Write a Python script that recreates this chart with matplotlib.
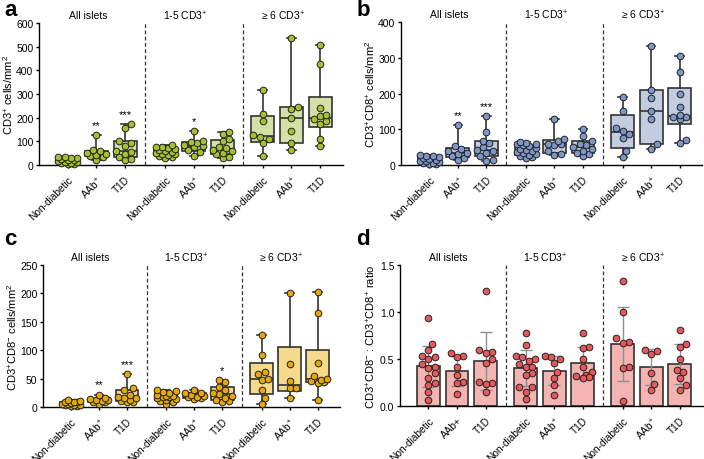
import numpy as np
import matplotlib
matplotlib.use('Agg')
import matplotlib.pyplot as plt
from matplotlib.ticker import FormatStrFormatter

plt.rcParams['font.family'] = ['Liberation Sans', 'DejaVu Sans']
plt.rcParams['mathtext.fontset'] = 'custom'
plt.rcParams['mathtext.rm'] = 'Liberation Sans'
plt.rcParams['mathtext.it'] = 'Liberation Sans:italic'
plt.rcParams['mathtext.bf'] = 'Liberation Sans:bold'
plt.rcParams['axes.linewidth'] = 1.0

# group headers and category names
groups = ['All islets', '1-5 CD3$^{+}$', '\u2265 6 CD3$^{+}$']
categories = ['Non-diabetic', 'AAb$^{+}$', 'T1D']
categories_d = ['Non-diabetic', 'AAb+', 'T1D',
                'Non-diabetic', 'AAb$^{+}$', 'T1D',
                'Non-diabetic', 'AAb$^{+}$', 'T1D']

# panel a: CD3+ cells/mm2 (order: ND, AAb, T1D for each group)
cd3 = [
    [3, 5, 8, 10, 12, 15, 18, 20, 22, 25, 28, 30, 32, 35],
    [22, 35, 38, 42, 45, 50, 58, 62, 128],
    [20, 25, 35, 45, 55, 60, 80, 95, 100, 158, 172],
    [30, 33, 38, 42, 45, 48, 52, 55, 58, 62, 68, 70, 75, 78, 85],
    [40, 55, 62, 75, 80, 85, 92, 98, 100, 145],
    [30, 35, 45, 52, 58, 65, 70, 75, 100, 110, 130, 138],
    [38, 95, 110, 120, 125, 185, 215, 318],
    [62, 92, 144, 200, 238, 245, 535],
    [80, 110, 175, 185, 195, 205, 212, 240, 425, 508],
]
stars_a = ['', '**', '***', '', '*', '', '', '', '']

# panel b: CD3+CD8+ cells/mm2
cd8pos = [
    [2, 3, 5, 6, 8, 10, 12, 15, 18, 20, 22, 25, 25, 28],
    [15, 20, 25, 30, 35, 40, 45, 52, 112],
    [12, 15, 25, 35, 40, 42, 50, 62, 68, 92, 138],
    [20, 22, 25, 27, 30, 33, 36, 40, 42, 45, 48, 52, 55, 58, 60, 63, 65],
    [28, 30, 38, 55, 58, 60, 68, 72, 128],
    [25, 30, 35, 40, 45, 50, 55, 60, 68, 80, 102],
    [22, 38, 75, 88, 96, 105, 152, 190],
    [45, 58, 128, 150, 188, 210, 333],
    [62, 70, 128, 133, 135, 140, 163, 200, 260, 305],
]
stars_b = ['', '**', '***', '', '', '', '', '', '']

# panel c: CD3+CD8- cells/mm2
cd8neg = [
    [1, 2, 3, 3, 4, 5, 6, 7, 8, 8, 9, 10, 12],
    [5, 8, 9, 10, 12, 13, 14, 15, 22],
    [8, 9, 10, 12, 15, 16, 18, 22, 30, 33, 58],
    [5, 8, 10, 12, 14, 15, 17, 18, 20, 20, 22, 25, 27, 28, 30],
    [14, 15, 17, 18, 20, 22, 24, 25, 30],
    [8, 10, 12, 15, 20, 23, 25, 30, 36, 44, 48],
    [5, 16, 30, 48, 50, 58, 62, 92, 127],
    [15, 33, 33, 45, 75, 200],
    [12, 42, 44, 45, 48, 50, 55, 78, 166, 203],
]
stars_c = ['', '**', '***', '', '', '*', '', '', '']

# panel d: CD3+CD8- : CD3+CD8+ ratio
ratio = [
    [0.94, 0.66, 0.6, 0.53, 0.52, 0.5, 0.45, 0.42, 0.4, 0.35, 0.3, 0.25, 0.22, 0.15, 0.07],
    [0.56, 0.53, 0.52, 0.42, 0.33, 0.26, 0.25, 0.13],
    [1.22, 0.6, 0.57, 0.56, 0.5, 0.46, 0.26, 0.25, 0.24, 0.15],
    [0.78, 0.65, 0.53, 0.52, 0.5, 0.48, 0.45, 0.42, 0.42, 0.35, 0.33, 0.2, 0.2, 0.15, 0.08],
    [0.53, 0.52, 0.5, 0.46, 0.36, 0.3, 0.22, 0.12],
    [0.78, 0.63, 0.62, 0.5, 0.42, 0.36, 0.33, 0.32, 0.31, 0.3],
    [1.33, 1.0, 0.72, 0.68, 0.67, 0.42, 0.4, 0.05],
    [0.6, 0.59, 0.55, 0.35, 0.23, 0.17],
    [0.81, 0.66, 0.63, 0.5, 0.38, 0.36, 0.3, 0.22, 0.17],
]

GAP = 3.4
pos = np.array([g * GAP + c for g in range(3) for c in range(3)])
dividers = [2.7, 6.1]
XLIM = (-1.0, 9.6)
EDGE = '#333333'


def swarm(vals, ppx, ppy, d=6.3, maxw=11.0):
    # simple deterministic beeswarm in pixel space
    vals = np.asarray(vals, float)
    order = np.argsort(vals)
    cands = [0.0]
    k = 1
    while k * d * 0.5 <= maxw:
        cands += [k * d * 0.5, -k * d * 0.5]
        k += 1
    placed = []
    xs = np.zeros(len(vals))
    for i in order:
        y = vals[i] * ppy
        best, bestd = 0.0, -1
        for c in cands:
            md = min([np.hypot(c - px, y - py) for px, py in placed] or [1e9])
            if md >= d:
                best = c
                break
            if md > bestd:
                best, bestd = c, md
        placed.append((best, y))
        xs[i] = best / ppx
    return xs


def setup(ax, ylim, yticks, ylabel, labels):
    ax.set_xlim(*XLIM)
    ax.set_ylim(*ylim)
    ax.set_yticks(yticks)
    ax.spines['top'].set_visible(False)
    ax.spines['right'].set_visible(False)
    ax.tick_params(axis='both', labelsize=7.5, length=2.5, width=1, pad=1.5)
    ax.tick_params(axis='x', pad=4, labelsize=7.3)
    ax.set_xticks(pos)
    ax.set_xticklabels(labels, rotation=45, ha='right', rotation_mode='anchor')
    ax.set_ylabel(ylabel, fontsize=8, labelpad=1)
    for xd in dividers:
        ax.axvline(xd, color='#333333', ls=(0, (3, 2)), lw=0.9)
    trans = ax.get_xaxis_transform()
    for g, name in enumerate(groups):
        ax.text(g * GAP + 0.7, 1.055, name, transform=trans, ha='center',
                va='center', fontsize=7.5)


def box_panel(ax, data, stars, ylim, yticks, ylabel, fill, dot):
    setup(ax, ylim, yticks, ylabel, categories * 3)
    stats = []
    for v in data:
        q1, med, q3 = np.percentile(v, [25, 50, 75], method='weibull')
        stats.append(dict(med=med, q1=q1, q3=q3, whislo=min(v), whishi=max(v)))
    ax.bxp(stats, positions=pos, widths=0.8, patch_artist=True, showfliers=False,
           capwidths=0.3, manage_ticks=False,
           boxprops=dict(facecolor=fill, edgecolor=EDGE, lw=1.2),
           medianprops=dict(color=EDGE, lw=1.2),
           whiskerprops=dict(color=EDGE, lw=1.2),
           capprops=dict(color=EDGE, lw=1.2))
    bb = ax.get_window_extent()
    ppx = bb.width / (XLIM[1] - XLIM[0])
    ppy = bb.height / (ylim[1] - ylim[0])
    for p, v in zip(pos, data):
        ax.plot(p + swarm(v, ppx, ppy), v, 'o', ms=4.8, mfc=dot, mec='#222222',
                mew=0.7, zorder=4, clip_on=False)
    rng = ylim[1] - ylim[0]
    for p, v, s in zip(pos, data, stars):
        if s:
            ax.text(p, max(v) + 0.035 * rng, s, ha='center', va='bottom',
                    fontsize=8)


fig = plt.figure(figsize=(7.04, 4.6), dpi=100)
ax_a = fig.add_axes([0.0554, 0.639, 0.432, 0.309])
ax_b = fig.add_axes([0.5696, 0.639, 0.428, 0.311])
ax_c = fig.add_axes([0.061, 0.113, 0.422, 0.309])
ax_d = fig.add_axes([0.568, 0.115, 0.43, 0.307])

box_panel(ax_a, cd3, stars_a, (0, 600), range(0, 601, 100),
          'CD3$^{+}$ cells/mm$^{2}$', '#d5e0a6', '#a4c131')
box_panel(ax_b, cd8pos, stars_b, (0, 400), range(0, 401, 100),
          'CD3$^{+}$CD8$^{+}$ cells/mm$^{2}$', '#c4cde0', '#7d97c9')
box_panel(ax_c, cd8neg, stars_c, (0, 250), range(0, 251, 50),
          'CD3$^{+}$CD8$^{-}$ cells/mm$^{2}$', '#f5d98c', '#e7a707')

# panel d: mean +/- SD bars with points
setup(ax_d, (0, 1.5), [0, 0.5, 1.0, 1.5],
      'CD3$^{+}$CD8$^{-}$ : CD3$^{+}$CD8$^{+}$ ratio', categories_d)
ax_d.yaxis.set_major_formatter(FormatStrFormatter('%.1f'))
means = [np.mean(v) for v in ratio]
sds = [np.std(v, ddof=1) for v in ratio]
ax_d.bar(pos, means, width=0.8, color='#f4b4b2', edgecolor=EDGE, lw=1.2, zorder=1)
ax_d.errorbar(pos, means, yerr=sds, fmt='none', ecolor='#8f8f8f', elinewidth=1,
              capsize=4.5, capthick=1, zorder=2)
bb = ax_d.get_window_extent()
ppx = bb.width / (XLIM[1] - XLIM[0])
ppy = bb.height / 1.5
for p, v in zip(pos, ratio):
    ax_d.plot(p + swarm(v, ppx, ppy), v, 'o', ms=4.8, mfc='#e8585a', mec='#222222',
              mew=0.7, zorder=4, clip_on=False)

for x, y, t in [(0.006, 1.0, 'a'), (0.506, 1.0, 'b'),
                (0.006, 0.502, 'c'), (0.506, 0.502, 'd')]:
    fig.text(x, y, t, fontsize=16, fontweight='bold', va='top', ha='left')

fig.savefig('out.png', dpi=100)
